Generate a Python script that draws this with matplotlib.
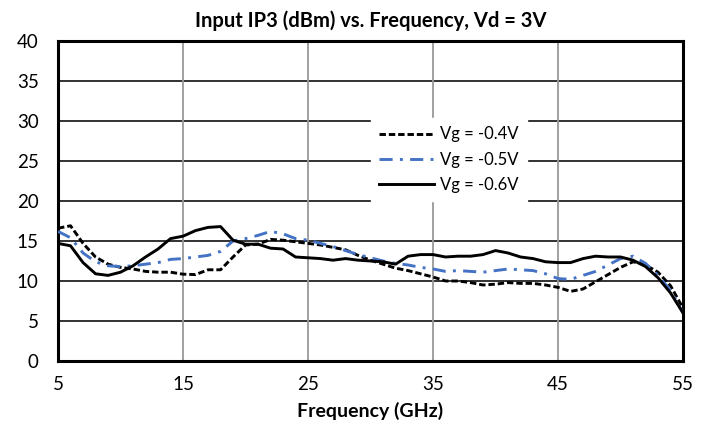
import matplotlib
matplotlib.use("Agg")
import matplotlib.pyplot as plt

freq = list(range(5, 56))
vg_04 = [16.6, 16.9, 14.7, 13.0, 12.1, 11.7, 11.5, 11.2, 11.1, 11.1,
         10.85, 10.8, 11.4, 11.4, 13.0, 14.5, 14.6, 15.2, 15.1, 14.9,
         14.7, 14.5, 14.2, 13.9, 13.2, 12.6, 12.1, 11.6, 11.3, 10.9,
         10.5, 10.0, 10.0, 9.8, 9.5, 9.6, 9.8, 9.7, 9.7, 9.5,
         9.2, 8.7, 9.0, 9.9, 10.8, 11.7, 12.4, 12.0, 11.1, 9.4, 6.6]
vg_05 = [16.2, 15.4, 13.5, 12.4, 11.9, 11.8, 11.9, 12.1, 12.3, 12.7,
         12.8, 13.0, 13.2, 13.7, 15.0, 15.3, 15.7, 16.2, 15.9, 15.3,
         15.1, 14.7, 14.3, 13.8, 13.3, 12.9, 12.5, 12.2, 12.0, 11.7,
         11.5, 11.2, 11.3, 11.2, 11.1, 11.3, 11.5, 11.4, 11.3, 10.9,
         10.3, 10.2, 10.7, 11.2, 12.0, 12.8, 13.1, 12.2, 10.7, 8.8, 6.0]
vg_06 = [14.7, 14.4, 12.3, 10.9, 10.7, 11.1, 11.9, 13.0, 14.0, 15.3,
         15.6, 16.3, 16.7, 16.8, 15.1, 14.6, 14.6, 14.1, 14.0, 13.0,
         12.9, 12.8, 12.6, 12.8, 12.6, 12.5, 12.4, 12.1, 13.1, 13.3,
         13.3, 13.0, 13.1, 13.1, 13.3, 13.8, 13.5, 13.0, 12.8, 12.4,
         12.3, 12.3, 12.8, 13.1, 13.0, 13.0, 12.6, 11.8, 10.4, 8.5, 6.0]

labels = ["Vg = -0.4V", "Vg = -0.5V", "Vg = -0.6V"]
xticks = [5, 15, 25, 35, 45, 55]
yticks = [0, 5, 10, 15, 20, 25, 30, 35, 40]
title = "Input IP3 (dBm) vs. Frequency, Vd = 3V"
xlabel = "Frequency (GHz)"

plt.rcParams['font.family'] = ['Lato', 'DejaVu Sans']

fig = plt.figure(figsize=(7.13, 4.26), dpi=100)
ax = fig.add_axes([0.0814, 0.1526, 0.8766, 0.7512])

ax.plot(freq, vg_04, color='black', lw=2.1, ls=(0, (2.2, 1.0)), label=labels[0], zorder=3)
ax.plot(freq, vg_05, color='#4472C4', lw=2.1, ls=(0, (4.5, 2.5, 1, 2.5)), label=labels[1], zorder=3)
ax.plot(freq, vg_06, color='black', lw=2.1, ls='-', label=labels[2], zorder=3)

ax.set_xlim(5, 55)
ax.set_ylim(0, 40)
ax.set_xticks(xticks)
ax.set_yticks(yticks)
ax.tick_params(length=0, labelsize=13.5)
ax.tick_params(axis='x', pad=11)
ax.tick_params(axis='y', pad=14)

for y in yticks[1:-1]:
    ax.axhline(y, color='#222222', lw=1.3, zorder=1)
for x in xticks[1:-1]:
    ax.axvline(x, color='#999999', lw=1.3, zorder=1)

for s in ax.spines.values():
    s.set_linewidth(2.2)
    s.set_color('black')

ax.set_title(title, fontsize=14.5, fontweight='bold', pad=10)
ax.set_xlabel(xlabel, fontsize=14, fontweight='bold', labelpad=6)

leg = ax.legend(loc='upper left', bbox_to_anchor=(0.50, 0.759), frameon=True,
                fancybox=False, framealpha=1, edgecolor='white', fontsize=12,
                handlelength=3.3, labelspacing=0.55, handletextpad=0.35,
                borderpad=0.5, borderaxespad=0)
leg.set_zorder(2)

fig.savefig("out.png", dpi=100)
